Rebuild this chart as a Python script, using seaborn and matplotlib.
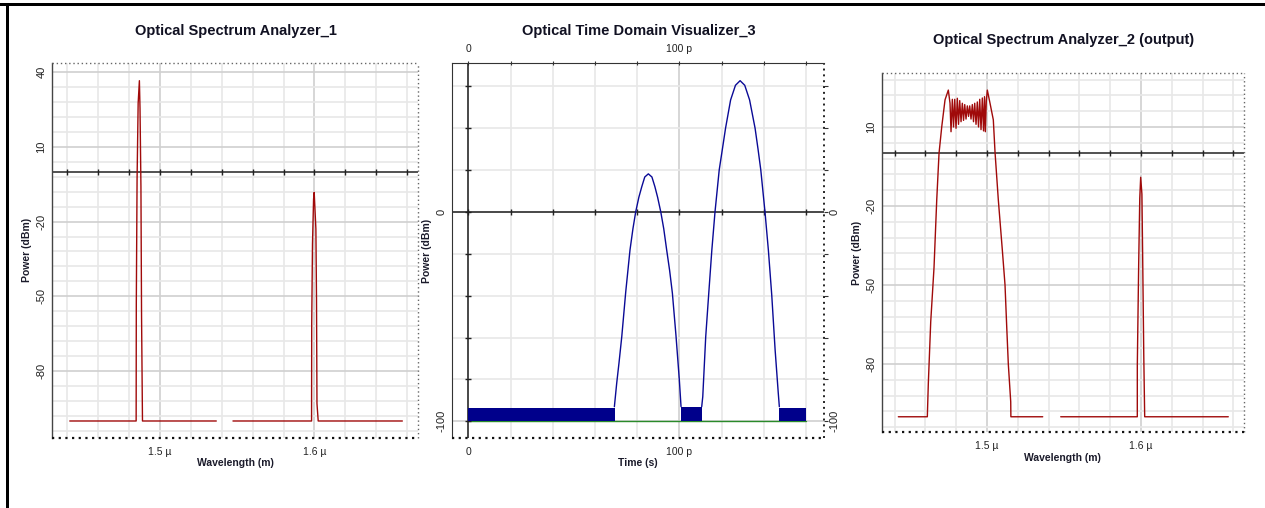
import numpy as np
import pandas as pd
import matplotlib
matplotlib.use("Agg")
import matplotlib.pyplot as plt
from matplotlib.patches import Rectangle
import seaborn as sns

# ---------------- data ----------------
# Optical Spectrum Analyzer_1 (wavelength in micrometres, power in dBm)
osa1_wl_left = [1.4415, 1.4845, 1.4846, 1.4851, 1.4858, 1.4866, 1.4870, 1.4876, 1.4880, 1.4886, 1.5364]
osa1_pw_left = [-100, -100, -53, -3, 27.5, 36.5, 25.5, -6, -58, -100, -100]
osa1_wl_right = [1.5472, 1.5981, 1.5982, 1.5987, 1.5994, 1.5998, 1.6009, 1.6013, 1.6016, 1.6024, 1.6569]
osa1_pw_right = [-100, -100, -61, -29, -11, -8.3, -23, -51, -93, -100, -100]

# Optical Time Domain Visualizer_3 (time in ps, power in dBm)
pulse1_t = [69.2, 70.3, 71.4, 72.7, 74.6, 76.6, 78.0, 79.3, 80.8, 82.2, 83.6, 85.3, 87.0, 88.4, 89.7,
            91.2, 92.6, 94.0, 95.4, 96.7, 98.4, 100.0, 100.8]
pulse1_p = [-93, -81.8, -72, -59.6, -38, -18.2, -8, 0, 7, 12.1, 16.7, 18.2, 16.7, 12.1, 7,
            0, -8, -18.2, -28, -38.8, -59, -80.3, -93]
pulse2_t = [110.6, 111.1, 112.5, 114.0, 115.4, 116.9, 118.9, 120.4, 121.9, 124.3, 126.6, 128.8, 131.0,
            133.3, 135.9, 137.3, 138.6, 140.6, 142.2, 143.8, 145.4, 146.9, 147.4]
pulse2_p = [-93, -88.2, -59.6, -38, -18.2, 0, 20.1, 30, 40, 53.5, 60.5, 62.7, 60.5,
            53.5, 40, 30, 20.1, 0, -18.2, -39.7, -65.9, -86.6, -93]
noise_t_start = [0.0, 100.8, 147.4]
noise_t_end = [69.4, 110.8, 160.0]
noise_floor_dbm = [-100, -100, -100]
noise_top_dbm = [-93.5, -93.2, -93.5]
ref_t = [0.0, 160.0]
ref_p = [-100, -100]

# Optical Spectrum Analyzer_2 (output)
osa2_wl_left = [1.4424, 1.46123, 1.46188, 1.46344, 1.46558, 1.46734, 1.46883, 1.47058, 1.47273, 1.47487,
                1.47597, 1.47662, 1.47747, 1.47825, 1.47903, 1.47987, 1.48071, 1.48149, 1.48227, 1.48312,
                1.48396, 1.48474, 1.48552, 1.48636, 1.48721, 1.48799, 1.48877, 1.48961, 1.49045, 1.49123,
                1.49201, 1.49286, 1.49370, 1.49448, 1.49526, 1.49610, 1.49695, 1.49773, 1.49838, 1.49890,
                1.49955, 1.50020, 1.50195, 1.50409, 1.50519, 1.50734, 1.50994, 1.51169, 1.51279, 1.51383,
                1.51539, 1.51550, 1.53617]
osa2_pw_left = [-100, -100, -87.3, -63.9, -43.3, -17.7, 0, 10, 20.3, 24,
                19, 8.2, 20.5, 10, 20.5, 9.5, 20.9, 11, 20, 12,
                19, 12.5, 18.5, 13, 18, 14, 18, 13, 18.5, 12,
                19, 11, 19.5, 10, 20.5, 9, 21, 8.5, 21.5, 8.2,
                20, 24, 19, 12.7, 0.5, -17.7, -36.7, -50, -65.8, -80,
                -94.3, -100, -100]
osa2_wl_right = [1.54786, 1.5976, 1.59761, 1.5985, 1.5992, 1.5998, 1.6006, 1.6011, 1.6018, 1.6024, 1.65669]
osa2_pw_right = [-100, -100, -80.4, -42, -17.1, -9.1, -15.5, -39.9, -76.6, -100, -100]

# axes ticks / labels
osa_x_major = [1.5, 1.6]
osa_x_major_labels = ["1.5 \u00b5", "1.6 \u00b5"]
osa_x_minor = [1.44, 1.46, 1.48, 1.50, 1.52, 1.54, 1.56, 1.58, 1.60, 1.62, 1.64, 1.66]
osa1_y_major = [40, 10, -20, -50, -80]
osa1_y_minor = list(range(-104, 41, 6))
osa2_y_major = [10, -20, -50, -80]
osa2_y_minor = list(range(-104, 29, 6))
time_x_major = [0, 100]
time_x_major_labels = ["0", "100 p"]
time_x_minor = [0, 20, 40, 60, 80, 100, 120, 140, 160]
time_y_major = [0, -100]
time_y_minor = [-100, -80, -60, -40, -20, 0, 20, 40, 60]

titles = ["Optical Spectrum Analyzer_1", "Optical Time Domain Visualizer_3",
          "Optical Spectrum Analyzer_2 (output)"]

# ---------------- style ----------------
sns.set_style("white")
plt.rcParams["font.family"] = ["Liberation Sans", "DejaVu Sans"]

RED = "#a00a0a"
NAVY = "#0a0a96"
TICKC = "#333333"

fig = plt.figure(figsize=(12.65, 5.08), dpi=100)
ax1 = fig.add_axes([0.0411, 0.1384, 0.2893, 0.7376])
ax2 = fig.add_axes([0.3571, 0.1384, 0.2945, 0.7370])
ax3 = fig.add_axes([0.6970, 0.1490, 0.2864, 0.7079])


def dotted(sp, color="#555555", lw=1.0):
    sp.set_linestyle((0, (1, 2)))
    sp.set_capstyle("butt")
    sp.set_color(color)
    sp.set_linewidth(lw)


def base_style(ax):
    ax.grid(which="minor", color="#e8e8e8", lw=1.2)
    ax.grid(which="major", color="#d0d0d0", lw=1.2)
    ax.set_axisbelow(True)
    ax.tick_params(axis="y", which="both", direction="out", length=3, width=0.8, color=TICKC,
                   labelsize=8, labelcolor="#222222", labelrotation=90, pad=1)
    ax.tick_params(axis="x", which="both", direction="inout", length=3, width=0.8, color=TICKC,
                   labelsize=7.5, labelcolor="#222222", pad=5)
    for lab in ax.get_yticklabels():
        lab.set_va("center")


def style_osa(ax, xlim, ylim, ymaj, ymin):
    ax.set_xlim(*xlim)
    ax.set_ylim(*ylim)
    ax.set_xticks(osa_x_minor, minor=True)
    ax.set_xticks(osa_x_major)
    ax.set_xticklabels(osa_x_major_labels)
    ax.set_yticks(ymin, minor=True)
    ax.set_yticks(ymaj)
    ax.set_yticklabels([str(v) for v in ymaj])
    base_style(ax)
    ax.spines["left"].set_color("#444444")
    ax.spines["left"].set_linewidth(1.0)
    dotted(ax.spines["top"], "#666666", 1.0)
    dotted(ax.spines["right"], "#666666", 1.0)
    dotted(ax.spines["bottom"], "#111111", 1.6)
    ax.axhline(0, color="#222222", lw=1.1, zorder=2)
    ax.plot(osa_x_minor, [0] * len(osa_x_minor), "|", color="#222222", ms=5, mew=1.0, zorder=2)
    ax.set_xlabel("Wavelength (m)", fontsize=7.5, fontweight="bold", color="#1a1a2a", labelpad=1)
    ax.set_ylabel("Power (dBm)", fontsize=7.5, fontweight="bold", color="#1a1a2a", labelpad=3)


# ---- panel 1 ----
df1 = pd.DataFrame({
    "wl": osa1_wl_left + osa1_wl_right,
    "pw": osa1_pw_left + osa1_pw_right,
    "seg": [0] * len(osa1_wl_left) + [1] * len(osa1_wl_right),
})
sns.lineplot(data=df1, x="wl", y="pw", units="seg", estimator=None, sort=False,
             color=RED, lw=1.0, ax=ax1, zorder=3)
style_osa(ax1, (1.430, 1.667), (-106.7, 43.6), osa1_y_major, osa1_y_minor)

# ---- panel 3 ----
df3 = pd.DataFrame({
    "wl": osa2_wl_left + osa2_wl_right,
    "pw": osa2_pw_left + osa2_pw_right,
    "seg": [0] * len(osa2_wl_left) + [1] * len(osa2_wl_right),
})
sns.lineplot(data=df3, x="wl", y="pw", units="seg", estimator=None, sort=False,
             color=RED, lw=1.0, ax=ax3, zorder=3)
style_osa(ax3, (1.4316, 1.6669), (-105.9, 30.6), osa2_y_major, osa2_y_minor)

# ---- panel 2 ----
ax = ax2
sns.lineplot(x=ref_t, y=ref_p, color="#2a8a2a", lw=1.0, ax=ax, zorder=2)
for t0, t1, lo, hi in zip(noise_t_start, noise_t_end, noise_floor_dbm, noise_top_dbm):
    ax.fill_between([t0, t1], [lo, lo], [hi, hi], color="#00008b", lw=0, zorder=3)
dfp = pd.DataFrame({
    "t": pulse1_t + pulse2_t,
    "p": pulse1_p + pulse2_p,
    "seg": [0] * len(pulse1_t) + [1] * len(pulse2_t),
})
sns.lineplot(data=dfp, x="t", y="p", units="seg", estimator=None, sort=False,
             color=NAVY, lw=1.0, ax=ax, zorder=3)
ax.set_xlim(-7.9, 168.7)
ax.set_ylim(-107.8, 71)
ax.set_xticks(time_x_minor, minor=True)
ax.set_xticks(time_x_major)
ax.set_xticklabels(time_x_major_labels)
ax.set_yticks(time_y_minor, minor=True)
ax.set_yticks(time_y_major)
ax.set_yticklabels([str(v) for v in time_y_major])
base_style(ax)
ax.tick_params(axis="x", which="both", top=True, labeltop=True)
ax.tick_params(axis="y", which="both", right=True, labelright=True)
for lab in ax.get_yticklabels():
    lab.set_va("center")
ax.spines["left"].set_color("#333333")
ax.spines["top"].set_color("#333333")
dotted(ax.spines["right"], "#222222", 1.4)
dotted(ax.spines["bottom"], "#111111", 1.6)
ax.axhline(0, color="#222222", lw=1.1, zorder=2)
ax.axvline(0, color="#222222", lw=1.1, zorder=2)
ax.plot(time_x_minor, [0] * len(time_x_minor), "|", color="#222222", ms=5, mew=1.0, zorder=2)
ax.plot([0] * len(time_y_minor), time_y_minor, "_", color="#222222", ms=5, mew=1.0, zorder=2)
ax.set_xlabel("Time (s)", fontsize=7.5, fontweight="bold", color="#1a1a2a", labelpad=1)
ax.set_ylabel("Power (dBm)", fontsize=7.5, fontweight="bold", color="#1a1a2a", labelpad=3)

# ---- titles ----
fig.text(236 / 1265, 1 - 31 / 508, titles[0], ha="center", va="center",
         fontsize=10.5, fontweight="bold", color="#111122")
fig.text(639 / 1265, 1 - 31 / 508, titles[1], ha="center", va="center",
         fontsize=10.5, fontweight="bold", color="#111122")
fig.text(1064 / 1265, 1 - 40 / 508, titles[2], ha="center", va="center",
         fontsize=10.5, fontweight="bold", color="#111122")

# ---- frame of the screenshot ----
fig.add_artist(Rectangle((0, 1 - 6 / 508), 1, 3 / 508, transform=fig.transFigure,
                         color="black", lw=0))
fig.add_artist(Rectangle((6 / 1265, 0), 3 / 1265, 1 - 3 / 508, transform=fig.transFigure,
                         color="black", lw=0))

fig.savefig("out.png", dpi=100)
